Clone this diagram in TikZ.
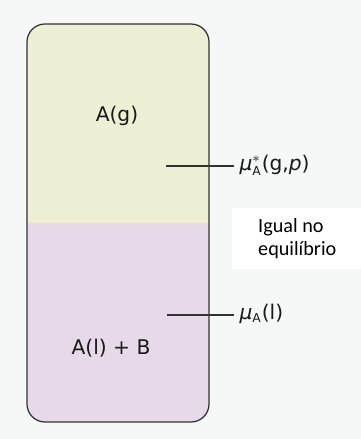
\documentclass[tikz,border=0pt]{standalone}
\usepackage{amsmath}
\usepackage{fontspec}
\setmainfont{DejaVu Sans}
\newfontfamily\notefont{Carlito}
\usetikzlibrary{positioning}
\definecolor{gasyellow}{RGB}{238,239,212}
\definecolor{liqpurple}{RGB}{230,217,232}
\definecolor{paper}{RGB}{246,247,247}
\definecolor{rim}{RGB}{50,50,50}

\begin{document}
\begin{tikzpicture}[x=0.02cm,y=-0.02cm,font=\fontsize{11.5}{13}\selectfont,
  phase/.style={text=black!90},
  mulabel/.style={anchor=west,inner sep=3pt,text=black!90}]
  \fill[paper] (0,0) rectangle (361,439);
  \useasboundingbox (0,0) rectangle (361,439);
  % Vessel with two phases
  \begin{scope}
    \clip[rounded corners=0.36cm] (27,24) rectangle (209,422);
    \fill[gasyellow] (27,24) rectangle (209,223);
    \fill[liqpurple] (27,223) rectangle (209,422);
  \end{scope}
  \draw[rim,line width=0.7pt,rounded corners=0.36cm] (27,24) rectangle (209,422);
  \node[phase] (gas) at (117,116) {A(g)};
  \node[phase] (liq) at (111,348) {A(l) + B};
  % Chemical potentials
  \coordinate (gaspt) at (166,166);
  \coordinate (liqpt) at (167,315);
  \node[mulabel] (mugas) at (234,165) {\textit{μ}$^{*}_{\text{\scriptsize A}}$(g,\textit{p})};
  \node[mulabel] (muliq) at (234,314) {\textit{μ}$_{\text{\scriptsize A}}$(l)};
  \draw[rim,line width=0.7pt] (gaspt) -- (gaspt -| mugas.west);
  \draw[rim,line width=0.7pt] (liqpt) -- (liqpt -| muliq.west);
  % Note box
  \fill[white] (232,208) rectangle (361,269);
  \node[font=\notefont\fontsize{11.5}{13}\selectfont,align=left,anchor=west] (eqbox) at (252,239) {Igual no\\equilíbrio};
\end{tikzpicture}
\end{document}
